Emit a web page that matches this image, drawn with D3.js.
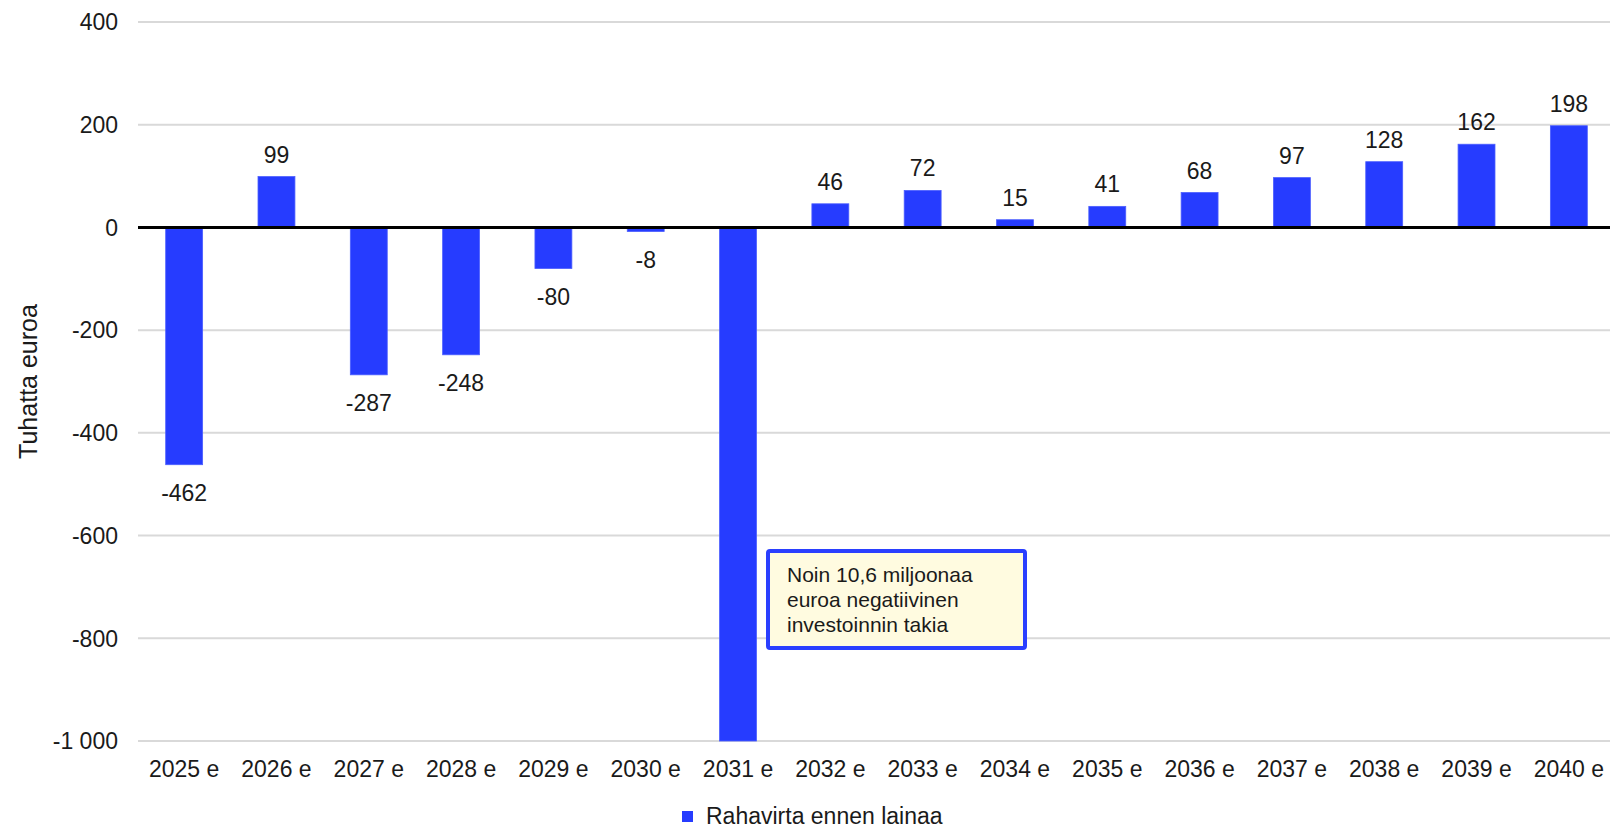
<!DOCTYPE html>
<html>
<head>
<meta charset="utf-8">
<script src="https://cdn.jsdelivr.net/npm/d3@7"></script>
<style>
  html, body { margin: 0; padding: 0; background: #fff; }
  svg { display: block; font-family: "Liberation Sans", Arial, sans-serif; }
</style>
</head>
<body>
<svg id="chart" width="1610" height="831"></svg>
<script>
const categories = ["2025 e","2026 e","2027 e","2028 e","2029 e","2030 e","2031 e","2032 e","2033 e","2034 e","2035 e","2036 e","2037 e","2038 e","2039 e","2040 e"];
const values = [-462, 99, -287, -248, -80, -8, -10600, 46, 72, 15, 41, 68, 97, 128, 162, 198];
const yTicks = [400, 200, 0, -200, -400, -600, -800, -1000];
const seriesName = "Rahavirta ennen lainaa";
const yTitle = "Tuhatta euroa";
const noteLines = ["Noin 10,6 miljoonaa", "euroa negatiivinen", "investoinnin takia"];

(function () {
const svg = d3.select("#chart");
const mLeft = 138, mRight = 1615, mTop = 22, mBottom = 741;
const barColor = "#263cff";
const txt = "#1a1a1a";
const fs = 23;

const x = d3.scaleBand().domain(categories).range([mLeft, mRight]).padding(0);
const y = d3.scaleLinear().domain([-1000, 400]).range([mBottom, mTop]).clamp(true);
const barW = x.bandwidth() * 0.4;

// gridlines
svg.append("g").selectAll("line").data(yTicks.filter(d => d !== 0)).join("line")
  .attr("x1", mLeft).attr("x2", 1610)
  .attr("y1", d => y(d)).attr("y2", d => y(d))
  .attr("stroke", "#d9d9d9").attr("stroke-width", 2);

// y tick labels
const fmt = d => d3.format(",")(d).replace(/,/g, " ").replace(/\u2212/g, "-");
svg.append("g").selectAll("text").data(yTicks).join("text")
  .attr("x", 118).attr("y", d => y(d)).attr("dy", "0.36em")
  .attr("text-anchor", "end").attr("font-size", fs).attr("fill", txt)
  .text(d => fmt(d));

// y title
svg.append("text")
  .attr("transform", `translate(37,${(mTop + mBottom) / 2}) rotate(-90)`)
  .attr("text-anchor", "middle").attr("font-size", 25).attr("fill", txt)
  .text(yTitle);

// bars
svg.append("g").selectAll("rect").data(values).join("rect")
  .attr("x", (d, i) => x(categories[i]) + (x.bandwidth() - barW) / 2)
  .attr("width", barW)
  .attr("y", d => Math.min(y(d), y(0)))
  .attr("height", d => Math.abs(y(d) - y(0)))
  .attr("fill", barColor)
  .attr("stroke", "#4b5eff").attr("stroke-width", 0.8);

// zero line
svg.append("line")
  .attr("x1", mLeft).attr("x2", 1610)
  .attr("y1", y(0)).attr("y2", y(0))
  .attr("stroke", "#000").attr("stroke-width", 3);

// data labels
svg.append("g").selectAll("text").data(values.map((v, i) => ({v, i})).filter(d => d.v >= -1000)).join("text")
  .attr("x", d => x(categories[d.i]) + x.bandwidth() / 2)
  .attr("y", d => d.v >= 0 ? y(d.v) - 14 : y(d.v) + 36)
  .attr("text-anchor", "middle").attr("font-size", fs).attr("fill", txt)
  .text(d => fmt(d.v));

// x tick labels
svg.append("g").selectAll("text").data(categories).join("text")
  .attr("x", d => x(d) + x.bandwidth() / 2)
  .attr("y", 777)
  .attr("text-anchor", "middle").attr("font-size", fs).attr("fill", txt)
  .text(d => d);

// annotation box
const note = svg.append("g");
note.append("rect")
  .attr("x", 768).attr("y", 551).attr("width", 257).attr("height", 97)
  .attr("rx", 2).attr("fill", "#fffbe0")
  .attr("stroke", "#2a3fff").attr("stroke-width", 4);
note.selectAll("text").data(noteLines).join("text")
  .attr("x", 787).attr("y", (d, i) => 582 + i * 25)
  .attr("font-size", 21).attr("fill", txt)
  .text(d => d);

// legend
svg.append("rect").attr("x", 682).attr("y", 811).attr("width", 11).attr("height", 11).attr("fill", barColor);
svg.append("text").attr("x", 706).attr("y", 824)
  .attr("font-size", fs).attr("fill", txt).text(seriesName);
})();
</script>
</body>
</html>
